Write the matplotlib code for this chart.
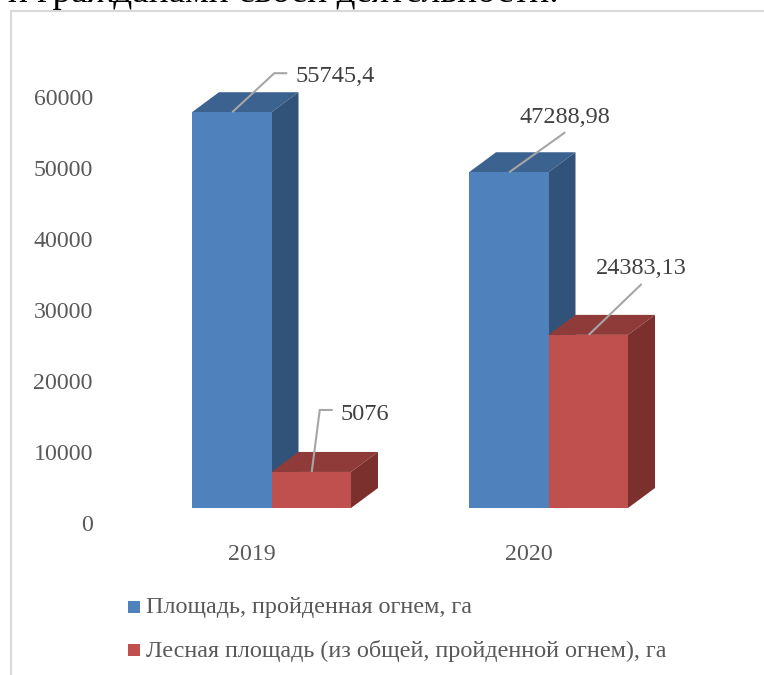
import matplotlib
matplotlib.use('Agg')
from matplotlib import pyplot as plt
from matplotlib.patches import Polygon, Rectangle

plt.rcParams['font.family'] = ['Liberation Serif', 'DejaVu Serif']

# данные
years = ['2019', '2020']
area_total = [55745.4, 47288.98]
area_forest = [5076, 24383.13]
total_labels = ['55745,4', '47288,98']
forest_labels = ['5076', '24383,13']
legend_names = ['Площадь, пройденная огнем, га',
                'Лесная площадь (из общей, пройденной огнем), га']
y_ticks = [0, 10000, 20000, 30000, 40000, 50000, 60000]
top_text = 'и гражданами своей деятельности.'

W, H = 764, 675
fig = plt.figure(figsize=(W / 100, H / 100), dpi=100)

# оси на всю картинку, масштаб подобран по пикселям
px_per_val = 0.0071
x0_px, x1_px = 272, 549
px_per_cat = x1_px - x0_px
ax = fig.add_axes([0, 0, 1, 1])
ax.set_xlim(-x0_px / px_per_cat, (W - x0_px) / px_per_cat)
ax.set_ylim(-(H - 508) / px_per_val, 508 / px_per_val)
ax.axis('off')

dx = 27 / px_per_cat
dy = 20 / px_per_val
bar_w = 79.5 / px_per_cat


def px(x_off, y_off):
    # смещение в пикселях -> единицы данных
    return x_off / px_per_cat, -y_off / px_per_val


def box(x, val, front, top, side, z):
    ax.bar(x, val, bar_w, align='edge', color=front, edgecolor='none', zorder=z + 0.2)
    ax.add_patch(Polygon([(x, val), (x + dx, val + dy), (x + bar_w + dx, val + dy), (x + bar_w, val)],
                         facecolor=top, edgecolor='none', zorder=z))
    ax.add_patch(Polygon([(x + bar_w, 0), (x + bar_w + dx, dy), (x + bar_w + dx, val + dy), (x + bar_w, val)],
                         facecolor=side, edgecolor='none', zorder=z))


for i in range(len(years)):
    box(i - bar_w - 0.5 / px_per_cat, area_total[i], '#4f81bd', '#3c6390', '#325379', 3)
    box(i - 0.5 / px_per_cat, area_forest[i], '#c0504d', '#8e3b39', '#7b302e', 4)

# подписи осей
for t in y_ticks:
    ax.text((93 - x0_px) / px_per_cat, t + px(0, 17.5)[1], str(t), ha='right', va='center',
            fontsize=17.2, color='#595959')
for i, y in enumerate(years):
    ax.text(i + px(-20, 0)[0], px(0, 46)[1], y, ha='center', va='center', fontsize=17.2, color='#595959')

# выноски: точка на столбике, изгибы, подпись
leaders = [
    (0 - bar_w / 2, area_total[0], [(42, -39), (55, -39)], total_labels[0], (63, -36), 'left'),
    (1 - bar_w / 2, area_total[1], [(56, -40)], total_labels[1], (56, -55), 'center'),
    (0 + bar_w / 2, area_forest[0], [(8, -62), (21, -62)], forest_labels[0], (29, -57), 'left'),
    (1 + bar_w / 2, area_forest[1], [(53, -51)], forest_labels[1], (53, -66), 'center'),
]
for x, val, bends, label, pos, ha in leaders:
    xs = [x] + [x + px(b[0], 0)[0] for b in bends]
    ys = [val] + [val + px(0, b[1])[1] for b in bends]
    ax.plot(xs, ys, color='#a6a6a6', lw=1.5, zorder=6, solid_capstyle='butt')
    ax.text(x + px(pos[0], 0)[0], val + px(0, pos[1])[1], label, ha=ha, va='center',
            fontsize=17.5, color='#404040', zorder=7)

# легенда и рамка рисуем в координатах фигуры
legend_colors = ['#4f81bd', '#c0504d']
for k, (name, c) in enumerate(zip(legend_names, legend_colors)):
    yp = 607 + k * 42.5
    fig.add_artist(Rectangle((128 / W, 1 - (yp + 6) / H), 12 / W, 12 / H, transform=fig.transFigure,
                             facecolor=c, edgecolor='none'))
    fig.text(146 / W, 1 - (yp + 1) / H, name, ha='left', va='center', fontsize=17.35, color='#595959')

fig.add_artist(plt.Line2D([10.5 / W, 10.5 / W, 1], [0, 1 - 10.5 / H, 1 - 10.5 / H],
                          transform=fig.transFigure, color='#d9d9d9', lw=1.5))
fig.text(8 / W, 1 - 2.5 / H, top_text, ha='left', va='baseline', fontsize=26.8, color='black')

fig.savefig('out.png', dpi=100)
